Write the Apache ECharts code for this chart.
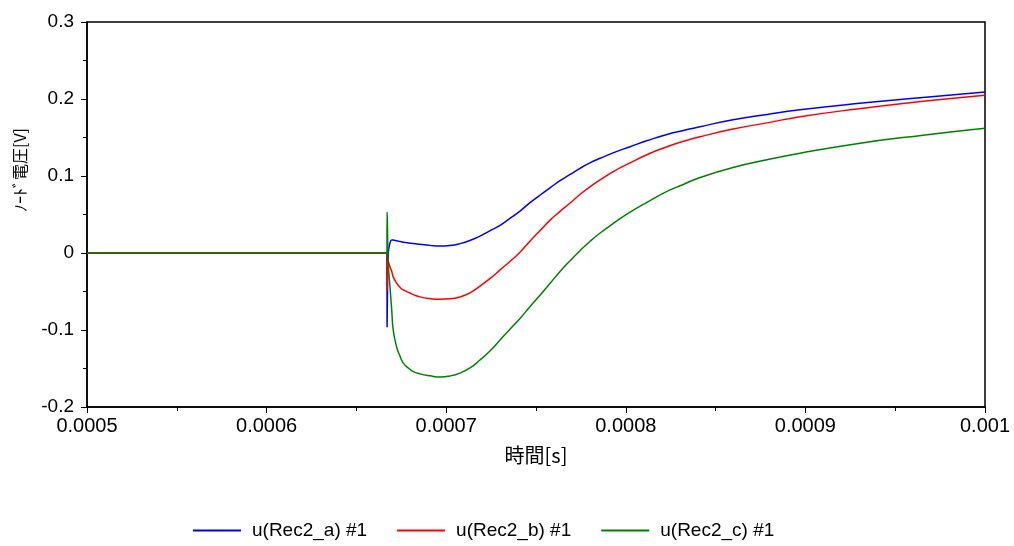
<!DOCTYPE html>
<html>
<head>
<meta charset="utf-8">
<script src="https://cdn.jsdelivr.net/npm/echarts@6/dist/echarts.min.js"></script>
<style>html,body{margin:0;padding:0;background:#fff}#c{width:1014px;height:546px}</style>
</head>
<body>
<div id="c"></div>
<script>
// time axis values [s]
var timeS = [0.0005, 0.000667, 0.0006671, 0.0006678, 0.0006687, 0.0006697, 0.0006705, 0.0006724, 0.0006743, 0.0006761,
  0.0006798, 0.0006817, 0.0006854, 0.000691, 0.0006965, 0.000702, 0.0007077, 0.0007135, 0.0007188, 0.0007245,
  0.00073, 0.0007355, 0.0007411, 0.0007465, 0.0007522, 0.000758, 0.0007634, 0.000769, 0.0007745, 0.00078,
  0.0007857, 0.000794, 0.0008024, 0.000812, 0.0008229, 0.000832, 0.0008413, 0.0008597, 0.0008786, 0.000897,
  0.0009287, 0.0009655, 0.001];
// node voltages [V]
var recA = [0, 0, -0.096, 0.0, 0.013, 0.017, 0.0168, 0.016, 0.0148, 0.014,
  0.0128, 0.0122, 0.0113, 0.0099, 0.009, 0.0097, 0.0122, 0.0165, 0.022, 0.029,
  0.036, 0.045, 0.0545, 0.065, 0.075, 0.085, 0.094, 0.102, 0.110, 0.117,
  0.123, 0.131, 0.138, 0.146, 0.154, 0.159, 0.164, 0.173, 0.180, 0.186,
  0.194, 0.202, 0.209];
var recB = [0, 0, -0.049, -0.011, -0.018, -0.024, -0.031, -0.039, -0.0446, -0.048,
  -0.052, -0.054, -0.057, -0.0592, -0.060, -0.0595, -0.057, -0.0515, -0.043, -0.033,
  -0.022, -0.011, 0.001, 0.015, 0.029, 0.043, 0.054, 0.065, 0.076, 0.086,
  0.095, 0.107, 0.117, 0.128, 0.138, 0.145, 0.151, 0.161, 0.169, 0.177,
  0.187, 0.197, 0.205];
var recC = [0, 0, 0.053, -0.015, -0.044, -0.075, -0.1, -0.122, -0.134, -0.143,
  -0.151, -0.154, -0.157, -0.1595, -0.161, -0.1598, -0.156, -0.149, -0.139, -0.127,
  -0.113, -0.099, -0.085, -0.07, -0.055, -0.039, -0.024, -0.01, 0.003, 0.015,
  0.026, 0.040, 0.053, 0.066, 0.080, 0.089, 0.098, 0.111, 0.121, 0.1295,
  0.142, 0.153, 0.162];
var seriesNames = ['u(Rec2_a) #1', 'u(Rec2_b) #1', 'u(Rec2_c) #1'];
var xTicks = { min: 0.0005, max: 0.001, step: 0.0001 };
var yTicks = { min: -0.2, max: 0.3, step: 0.1 };

function pairs(vals) { return timeS.map(function (t, i) { return [t, vals[i]]; }); }
var colors = ['#0000ff', '#ff0000', '#008000'];
var font = 'Liberation Sans, Arial, sans-serif';
var cjk = 'Noto Sans CJK JP, sans-serif';

var chart = echarts.init(document.getElementById('c'), null, { renderer: 'canvas' });
chart.setOption({
  animation: false,
  backgroundColor: '#fff',
  grid: { left: 87, right: 29, top: 22, bottom: 139, show: true, borderColor: '#000', borderWidth: 1.5, backgroundColor: 'transparent' },
  legend: {
    top: 516, left: 188,
    itemWidth: 48, itemHeight: 2, itemGap: 30, icon: 'rect',
    textStyle: { fontFamily: font, fontSize: 19, color: '#000', padding: [0, 0, 0, 6] },
    data: seriesNames
  },
  xAxis: {
    type: 'value', min: xTicks.min, max: xTicks.max, interval: xTicks.step,
    name: '時間[s]', nameLocation: 'middle', nameGap: 38,
    nameTextStyle: { fontFamily: cjk, fontSize: 20, color: '#000' },
    axisLine: { show: true, onZero: false, lineStyle: { color: '#000', width: 1.5 } },
    axisTick: { show: true, length: 6, lineStyle: { color: '#000' } },
    minorTick: { show: true, splitNumber: 2, length: 4, lineStyle: { color: '#000' } },
    splitLine: { show: false },
    axisLabel: { fontFamily: font, fontSize: 20, color: '#000', margin: 9,
      formatter: function (v) { return String(+v.toPrecision(6)); } }
  },
  yAxis: {
    type: 'value', min: yTicks.min, max: yTicks.max, interval: yTicks.step,
    axisLine: { show: true, onZero: false, lineStyle: { color: '#000', width: 1.5 } },
    axisTick: { show: true, length: 6, lineStyle: { color: '#000' } },
    minorTick: { show: true, splitNumber: 2, length: 4, lineStyle: { color: '#000' } },
    splitLine: { show: false },
    axisLabel: { fontFamily: font, fontSize: 19, color: '#000', margin: 13,
      formatter: function (v) { return String(+v.toPrecision(6)); } }
  },
  graphic: [{
    type: 'text', left: 12, top: 128, rotation: Math.PI / 2,
    style: { text: 'ﾉｰﾄﾞ電圧[V]', fontFamily: cjk, fontSize: 16, fill: '#000' }
  }],
  series: [recA, recB, recC].map(function (vals, i) {
    return {
      name: seriesNames[i], type: 'line', data: pairs(vals), smooth: 0.5,
      showSymbol: false, symbol: 'none', color: colors[i],
      lineStyle: { width: 1.5, color: colors[i] }
    };
  })
});
</script>
</body>
</html>
